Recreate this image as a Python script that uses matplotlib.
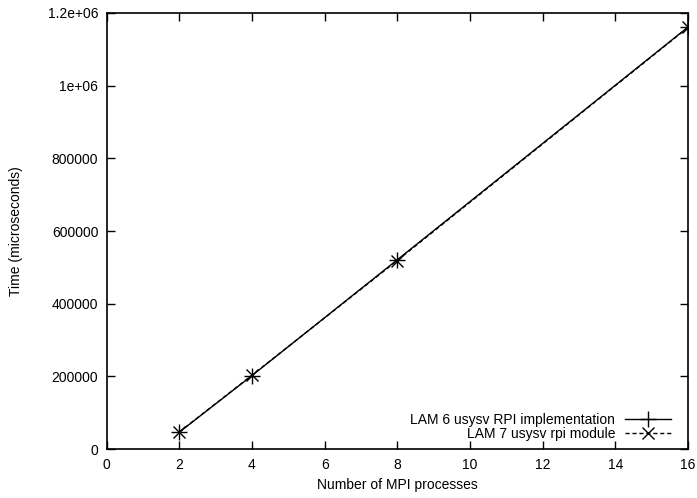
import matplotlib
matplotlib.use("Agg")
import matplotlib.pyplot as plt

procs = [2, 4, 8, 16]
lam6_time = [46800, 202500, 521000, 1161000]
lam7_time = [47300, 203500, 519000, 1160000]

plt.rcParams['font.family'] = ['Liberation Sans', 'DejaVu Sans']
plt.rcParams['font.size'] = 10

fig = plt.figure(figsize=(6.97, 4.98), dpi=100)
ax = fig.add_axes([0.153, 0.098, 0.834, 0.876])

ax.plot(procs, lam6_time, color='black', lw=1.0, ls='-', marker='+',
        markersize=11, markeredgewidth=1.0, label='LAM 6 usysv RPI implementation')
ax.plot(procs, lam7_time, color='black', lw=1.0, ls=(0, (3, 2)), marker='x',
        markersize=9, markeredgewidth=1.0, label='LAM 7 usysv rpi module')

ax.set_xlim(0, 16)
ax.set_ylim(0, 1200000)
ax.set_xticks(range(0, 17, 2))
ax.set_yticks([0, 200000, 400000, 600000, 800000, 1000000, 1200000])
ax.set_yticklabels(['0', '200000', '400000', '600000', '800000', '1e+06', '1.2e+06'])
ax.tick_params(direction='in', top=True, right=True, length=6, width=1, pad=6)
for s in ax.spines.values():
    s.set_linewidth(1.2)

ax.set_xlabel('Number of MPI processes', labelpad=5)
ax.set_ylabel('Time (microseconds)', labelpad=18)

ax.legend(loc='lower right', frameon=False, markerfirst=False, handlelength=3.3,
          handletextpad=0.7, labelspacing=0.0, borderaxespad=0.2,
          bbox_to_anchor=(0.985, 0.0))

fig.savefig('out.png', dpi=100)
